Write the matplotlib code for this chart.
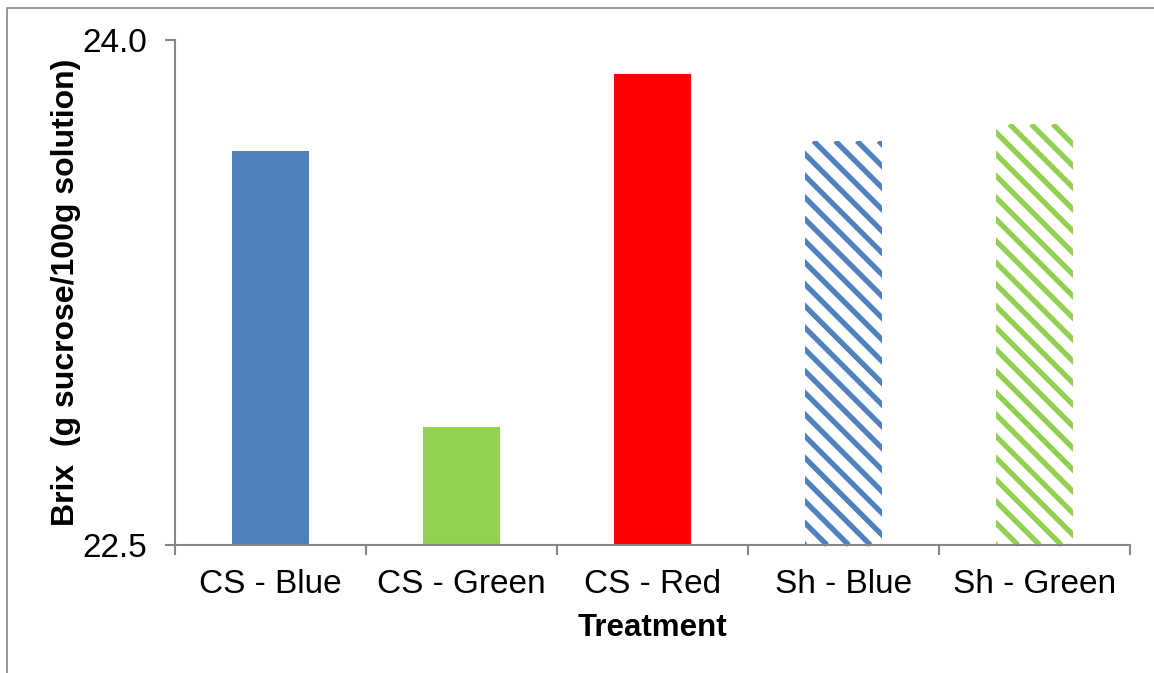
import numpy as np
import matplotlib.pyplot as plt
import matplotlib.patches as patches

plt.rcParams['font.family'] = ['Liberation Sans', 'DejaVu Sans']

# Brix values per treatment
treatments = ['CS - Blue', 'CS - Green', 'CS - Red', 'Sh - Blue', 'Sh - Green']
brix = [23.67, 22.85, 23.90, 23.70, 23.75]
bar_colors = ['#4F81BD', '#92D050', '#FF0000', '#4F81BD', '#92D050']
hatched = [False, False, False, True, True]

fig = plt.figure(figsize=(11.54, 6.73), dpi=100)
ax = fig.add_axes([0.1516, 0.1902, 0.8276, 0.7504])
ax.set_ylim(22.5, 24.0)
ax.set_xlim(-0.5, len(treatments) - 0.5)

# diagonal stripes drawn by hand so the spacing can be set in pixels
def stripe(bar, color, step=21.7, lw=3.8):
    x0, y0 = ax.transData.transform((bar.get_x(), 22.5))
    x1, y1 = ax.transData.transform((bar.get_x() + bar.get_width(), bar.get_y() + bar.get_height()))
    inv = ax.transData.inverted()
    h = y1 - y0
    for s in np.arange(x0 - h - step, x1 + step, step):
        # line going down to the right at 45 degrees in pixel space
        p = inv.transform([(s, y1), (s + h, y0)])
        ln, = ax.plot(p[:, 0], p[:, 1], color=color, linewidth=lw,
                      solid_capstyle='butt')
        ln.set_clip_path(bar)

for i, v in enumerate(brix):
    if hatched[i]:
        b = ax.bar(i, v, width=0.40, color='white', linewidth=0)[0]
        stripe(b, bar_colors[i])
    else:
        ax.bar(i, v, width=0.40, color=bar_colors[i], linewidth=0)

ax.set_ylim(22.5, 24.0)
ax.set_yticks([22.5, 24.0])
ax.set_yticklabels(['22.5', '24.0'])
ax.set_xticks([i - 0.5 for i in range(len(treatments) + 1)])
ax.set_xticklabels([])
ax.set_xticks(range(len(treatments)), minor=True)
ax.set_xticklabels(treatments, minor=True)

spine_col = '#868686'
for s in ['top', 'right']:
    ax.spines[s].set_visible(False)
for s in ['left', 'bottom']:
    ax.spines[s].set_color(spine_col)
    ax.spines[s].set_linewidth(1.5)
ax.tick_params(axis='both', which='major', direction='out', length=7,
               width=1.5, color=spine_col, labelsize=24, pad=13)
ax.tick_params(axis='x', which='minor', length=0, labelsize=24, pad=17)

ax.set_xlabel('Treatment', fontsize=22.5, fontweight='bold', labelpad=10)
ax.set_ylabel('Brix  (g sucrose/100g solution)', fontsize=23,
              fontweight='bold', labelpad=1)

# outer chart border
fig.patches.append(patches.Rectangle((7 / 1154, -0.1), 1.2, 1 - 8 / 673 + 0.1,
                                     transform=fig.transFigure, fill=False,
                                     edgecolor=spine_col, linewidth=1.2))

fig.savefig('out.png', dpi=100)
